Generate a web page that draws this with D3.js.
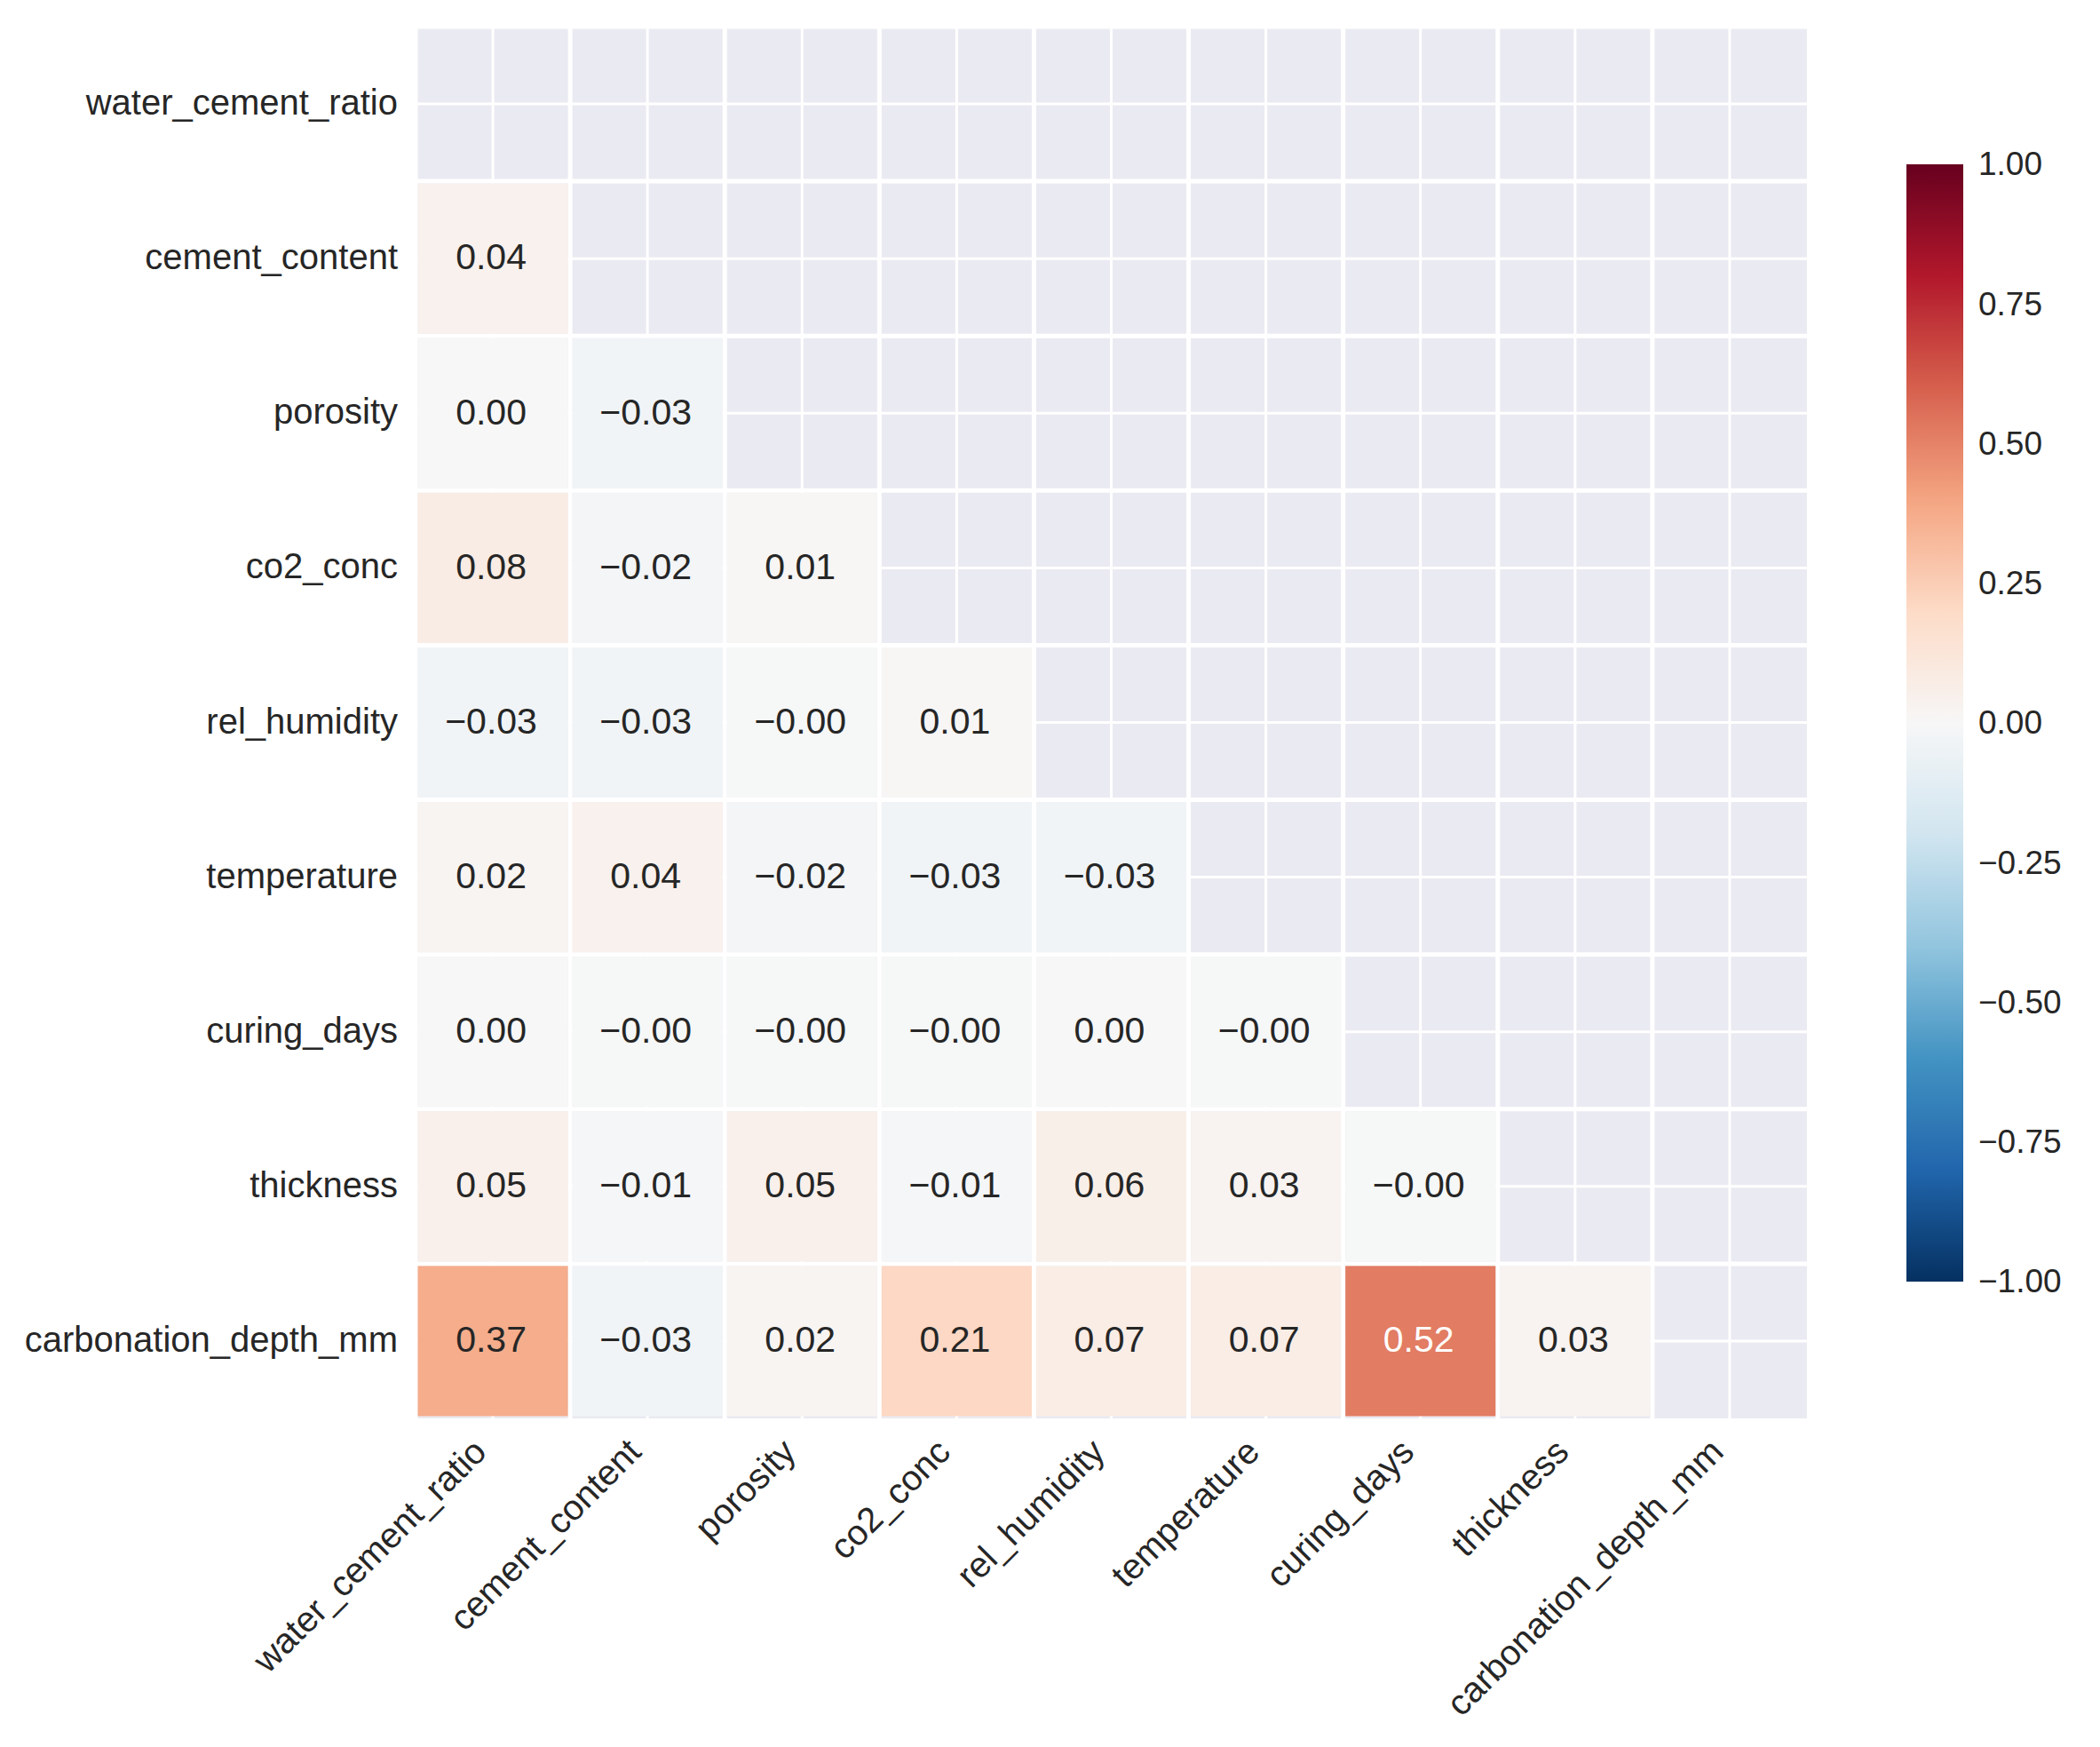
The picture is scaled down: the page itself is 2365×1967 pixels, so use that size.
<!DOCTYPE html>
<html>
<head>
<meta charset="utf-8">
<script src="https://cdn.jsdelivr.net/npm/d3@7"></script>
<style>
  html, body { margin: 0; padding: 0; background: #ffffff; }
  text { font-family: "Liberation Sans", Arial, sans-serif; }
</style>
</head>
<body>
<svg id="chart" width="2365" height="1967"></svg>
<script>
// ---- data ----
const variables = ["water_cement_ratio", "cement_content", "porosity", "co2_conc",
  "rel_humidity", "temperature", "curing_days", "thickness", "carbonation_depth_mm"];

// lower-triangle correlations (row i holds columns 0..i-1)
const rowWaterCement = [];
const rowCementContent = [0.04];
const rowPorosity = [0.00, -0.03];
const rowCo2Conc = [0.08, -0.02, 0.01];
const rowRelHumidity = [-0.03, -0.03, -0.004, 0.01];
const rowTemperature = [0.02, 0.04, -0.02, -0.03, -0.03];
const rowCuringDays = [0.00, -0.004, -0.004, -0.004, 0.00, -0.004];
const rowThickness = [0.05, -0.01, 0.05, -0.01, 0.06, 0.03, -0.004];
const rowCarbonation = [0.37, -0.03, 0.02, 0.21, 0.07, 0.07, 0.52, 0.03];
const corrRows = [rowWaterCement, rowCementContent, rowPorosity, rowCo2Conc,
  rowRelHumidity, rowTemperature, rowCuringDays, rowThickness, rowCarbonation];

const colorbarTicks = [1.00, 0.75, 0.50, 0.25, 0.00, -0.25, -0.50, -0.75, -1.00];
const rdbuStops = [1.0, 0.8, 0.6, 0.4, 0.2, 0.0, -0.2, -0.4, -0.6, -0.8, -1.0];
const rdbuColors = ["#67001f", "#b2182b", "#d6604d", "#f4a582", "#fddbc7", "#f7f7f7",
  "#d1e5f0", "#92c5de", "#4393c3", "#2166ac", "#053061"];

// ---- layout ----
const svg = d3.select("#chart");
const hmLeft = 468, hmRight = 2035, hmTop = 30, hmBottom = 1597;
const textDark = "#262626";

const x = d3.scaleBand().domain(variables).range([hmLeft, hmRight]).padding(0);
const y = d3.scaleBand().domain(variables).range([hmTop, hmBottom]).padding(0);
const bw = x.bandwidth();
const color = d3.scaleLinear().domain(rdbuStops).range(rdbuColors).interpolate(d3.interpolateRgb).clamp(true);

// background (seaborn darkgrid)
svg.append("rect").attr("x", hmLeft).attr("y", hmTop)
  .attr("width", hmRight - hmLeft).attr("height", hmBottom - hmTop).attr("fill", "#eaeaf2");

// grid lines at cell centres
const grid = svg.append("g");
variables.forEach(v => {
  const cx = x(v) + bw / 2, cy = y(v) + bw / 2;
  grid.append("line").attr("x1", cx).attr("x2", cx).attr("y1", hmTop).attr("y2", hmBottom)
    .attr("stroke", "#ffffff").attr("stroke-width", 3);
  grid.append("line").attr("x1", hmLeft).attr("x2", hmRight).attr("y1", cy).attr("y2", cy)
    .attr("stroke", "#ffffff").attr("stroke-width", 3);
});
// cell boundary lines
variables.forEach(v => {
  grid.append("line").attr("x1", x(v)).attr("x2", x(v)).attr("y1", hmTop).attr("y2", hmBottom)
    .attr("stroke", "#ffffff").attr("stroke-width", 5);
  grid.append("line").attr("x1", hmLeft).attr("x2", hmRight).attr("y1", y(v)).attr("y2", y(v))
    .attr("stroke", "#ffffff").attr("stroke-width", 5);
});

// cells
const cells = [];
corrRows.forEach((row, i) => row.forEach((val, j) => cells.push({ r: variables[i], c: variables[j], v: val })));

const fmt = v => (v < 0 ? "\u2212" : "") + Math.abs(v).toFixed(2);
function lum(c) {
  const rgb = d3.rgb(c);
  const f = u => { u /= 255; return u <= 0.03928 ? u / 12.92 : Math.pow((u + 0.055) / 1.055, 2.4); };
  return 0.2126 * f(rgb.r) + 0.7152 * f(rgb.g) + 0.0722 * f(rgb.b);
}

const cellG = svg.append("g");
cellG.selectAll("rect").data(cells).join("rect")
  .attr("x", d => x(d.c) + 2.5).attr("y", d => y(d.r) + 2.5)
  .attr("width", bw - 5).attr("height", bw - 5)
  .attr("fill", d => color(d.v));

cellG.selectAll("text").data(cells).join("text")
  .attr("x", d => x(d.c) + bw / 2 - 2).attr("y", d => y(d.r) + bw / 2)
  .attr("text-anchor", "middle").attr("dy", "0.3em")
  .attr("font-size", 41)
  .attr("fill", d => lum(color(d.v)) > 0.408 ? textDark : "#ffffff")
  .text(d => fmt(d.v));

// row labels
svg.append("g").selectAll("text").data(variables).join("text")
  .attr("x", hmLeft - 20).attr("y", d => y(d) + bw / 2)
  .attr("dy", "0.3em").attr("text-anchor", "end")
  .attr("font-size", 40).attr("fill", textDark)
  .text(d => d);

// column labels (rotated 45°)
svg.append("g").selectAll("text").data(variables).join("text")
  .attr("transform", d => `translate(${x(d) + bw / 2 - 5},${hmBottom + 40}) rotate(-45)`)
  .attr("text-anchor", "end")
  .attr("font-size", 40).attr("fill", textDark)
  .text(d => d);

// colorbar
const cbX = 2147, cbW = 64, cbTop = 185, cbBottom = 1443;
const cbScale = d3.scaleLinear().domain([-1, 1]).range([cbBottom, cbTop]);
const defs = svg.append("defs");
const grad = defs.append("linearGradient").attr("id", "cbgrad")
  .attr("x1", 0).attr("y1", 1).attr("x2", 0).attr("y2", 0);
d3.range(0, 1.0001, 0.02).forEach(t => {
  grad.append("stop").attr("offset", t).attr("stop-color", color(-1 + 2 * t));
});
svg.append("rect").attr("x", cbX).attr("y", cbTop).attr("width", cbW)
  .attr("height", cbBottom - cbTop).attr("fill", "url(#cbgrad)");

const cbAxis = d3.axisRight(cbScale).tickValues(colorbarTicks).tickSize(0).tickPadding(17)
  .tickFormat(v => (v < 0 ? "\u2212" : "") + Math.abs(v).toFixed(2));
const cbG = svg.append("g").attr("transform", `translate(${cbX + cbW},0)`).call(cbAxis);
cbG.select(".domain").remove();
cbG.selectAll("text").attr("font-size", 37).attr("fill", textDark)
  .attr("font-family", "Liberation Sans, Arial, sans-serif");
</script>
</body>
</html>
